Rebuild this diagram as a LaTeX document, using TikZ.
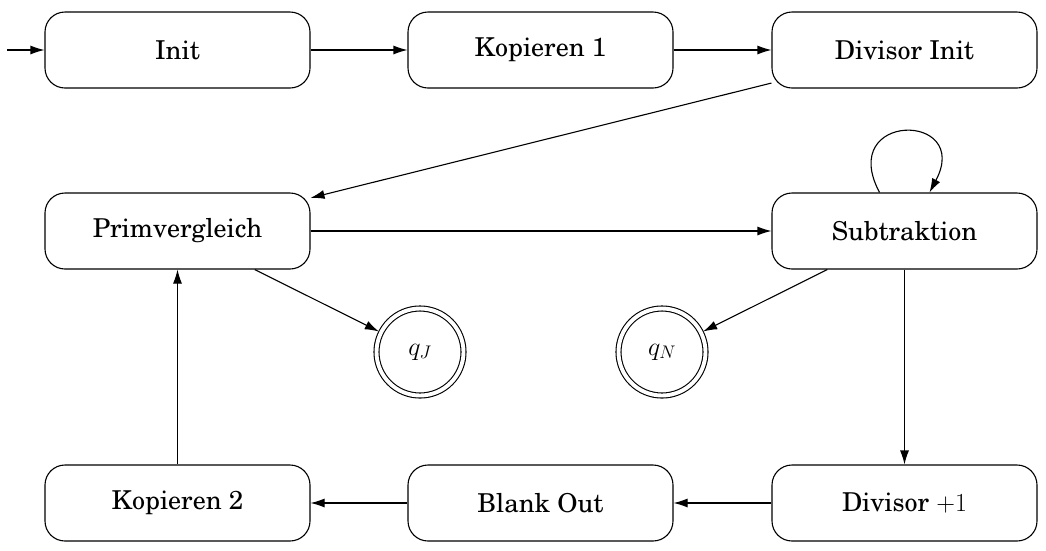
\RequirePackage{fix-cm}
\documentclass[tikz,border=0pt]{standalone}
\usepackage[T1]{fontenc}
\usepackage{newcent}
\usetikzlibrary{arrows.meta,calc}
\begin{document}
\begin{tikzpicture}[x=1pt,y=-1pt,
  state/.style={draw, rounded corners=20pt, minimum width=265pt, minimum height=76pt,
    inner sep=0pt, font=\fontsize{26}{31}\selectfont, line width=1.1pt},
  final/.style={draw, circle, double, double distance=3.9pt, minimum size=87pt,
    inner sep=0pt, outer sep=2.5pt, font=\fontsize{26}{31}\selectfont, line width=1.1pt},
  edge/.style={-{Latex[length=14pt,width=9pt]}, line width=1.1pt}]
\useasboundingbox (0,0) rectangle (1046,550);
\node[state] (init) at (177.5,50) {Init};
\node[state] (kop1) at (540.5,50) {Kopieren 1};
\node[state] (divinit) at (904.5,50) {Divisor Init};
\node[state] (prim) at (177.5,231) {Primvergleich};
\node[state] (sub) at (904.5,231) {Subtraktion};
\node[final] (qj) at (420,352) {$q_J$};
\node[final] (qn) at (662,352) {$q_N$};
\node[state] (kop2) at (177.5,503) {Kopieren 2};
\node[state] (blank) at (540.5,503) {Blank Out};
\node[state] (divp) at (904.5,503) {Divisor $+1$};
\coordinate (start) at (7,50);
\draw[edge] (start) -- (init);
\draw[edge] (init) -- (kop1);
\draw[edge] (kop1) -- (divinit);
\draw[edge] (divinit) -- (prim);
\draw[edge] (prim) -- (sub);
\draw[edge] (prim) -- (qj);
\draw[edge] (sub) -- (qn);
\draw[edge] (sub) -- (divp);
\draw[edge] (divp) -- (blank);
\draw[edge] (blank) -- (kop2);
\draw[edge] (kop2) -- (prim);
\draw[edge] ($(sub.north)+(-25,0)$) .. controls ($(sub.north)+(-68,-81)$) and ($(sub.north)+(68,-81)$) .. ($(sub.north)+(25,0)$);
\end{tikzpicture}
\end{document}
